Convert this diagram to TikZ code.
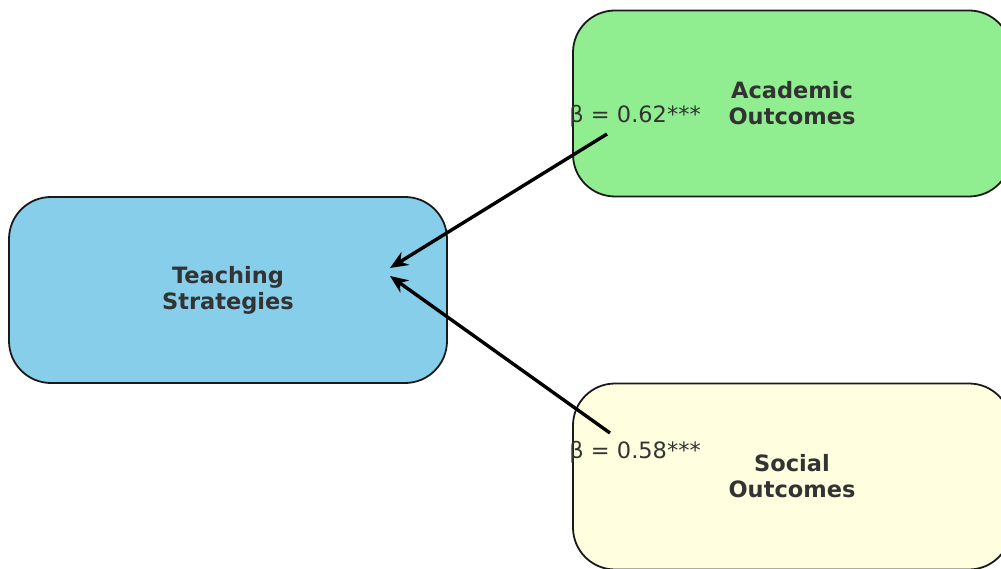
\documentclass[tikz,border=0pt]{standalone}
\usepackage{fontspec}
\setmainfont{DejaVu Sans}
\usetikzlibrary{arrows.meta}
\definecolor{boxgreen}{HTML}{90EE90}
\definecolor{boxblue}{HTML}{87CEEB}
\definecolor{boxyellow}{HTML}{FFFFE0}
\definecolor{textgrey}{HTML}{333333}
\definecolor{edgegrey}{HTML}{1A1A1A}
\begin{document}
\begin{tikzpicture}[x=1pt,y=-1pt,
  box/.style={draw=edgegrey, line width=1.8pt, rounded corners=42pt,
    minimum width=438pt, minimum height=186pt, inner sep=0pt,
    text=textgrey, font=\fontsize{22.5}{26}\selectfont\bfseries, align=center},
  coef/.style={text=textgrey, font=\fontsize{22.5}{26}\selectfont, inner sep=0pt},
  conn/.style={line width=3.4pt, draw=black, -{Stealth[length=18pt,width=15pt]}}]
\useasboundingbox (0,0) rectangle (1001,569);
\clip (0,0) rectangle (1001,569);
\node[box, fill=boxblue] (teach) at (228,290) {Teaching\\Strategies};
\node[box, fill=boxgreen] (acad) at (792,103.5) {Academic\\Outcomes};
\node[box, fill=boxyellow] (soc) at (792,476.5) {Social\\Outcomes};
\node[coef, anchor=base east] (c1) at (701,123) {β = 0.62***};
\node[coef, anchor=base east] (c2) at (701,458) {β = 0.58***};
\coordinate (s1) at (607,134);
\coordinate (e1) at (390,268);
\coordinate (s2) at (610,433);
\coordinate (e2) at (390,276);
\draw[conn] (s1) -- (e1);
\draw[conn] (s2) -- (e2);
\end{tikzpicture}
\end{document}
